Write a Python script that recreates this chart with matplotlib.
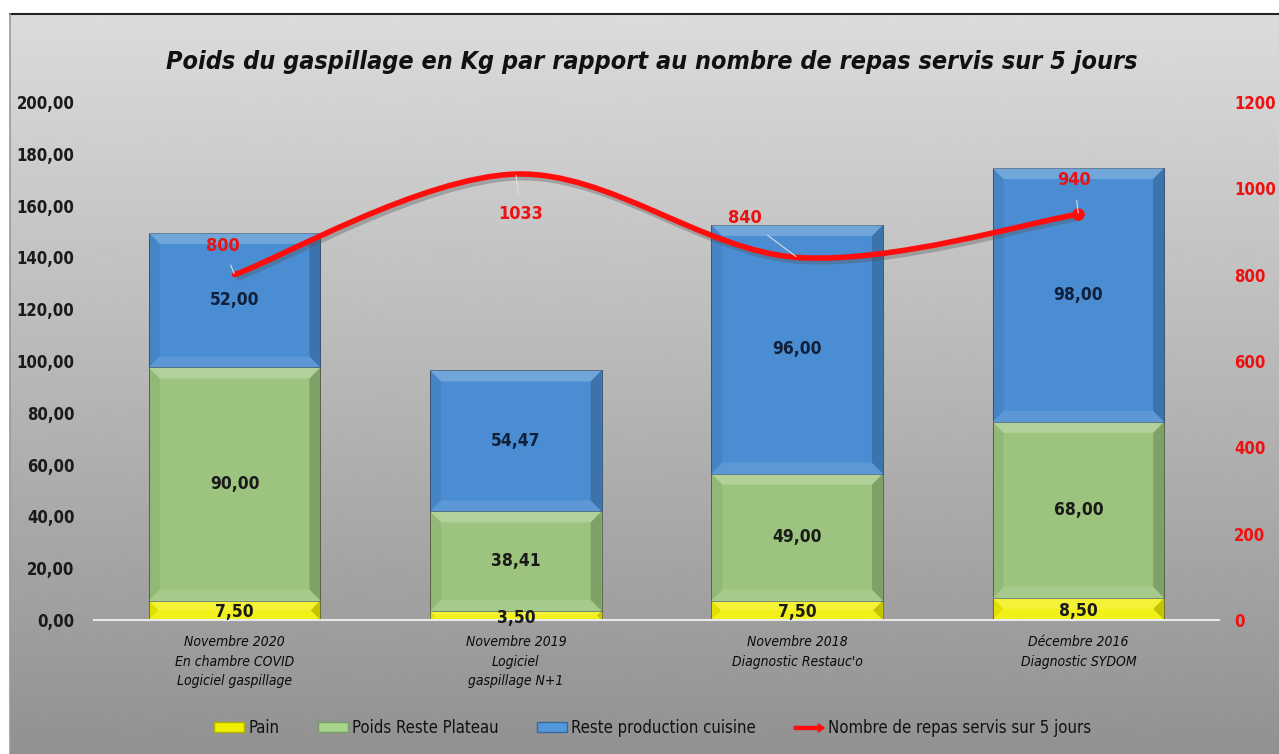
import numpy as np
import matplotlib.pyplot as plt
import matplotlib.transforms as mtransforms
from matplotlib.path import Path
from matplotlib.patches import PathPatch, Polygon, Patch, FancyArrow
from matplotlib.legend_handler import HandlerPatch

categories = ["Novembre 2020\nEn chambre COVID\nLogiciel gaspillage",
              "Novembre 2019\nLogiciel\ngaspillage N+1",
              "Novembre 2018\nDiagnostic Restauc'o",
              "Décembre 2016\nDiagnostic SYDOM"]
pain = [7.5, 3.5, 7.5, 8.5]
plateau = [90.0, 38.41, 49.0, 68.0]
cuisine = [52.0, 54.47, 96.0, 98.0]
repas = [800, 1033, 840, 940]
left_ticks = list(range(0, 201, 20))
right_ticks = list(range(0, 1201, 200))

plt.rcParams['font.family'] = ['DejaVu Sans']
plt.rcParams['font.stretch'] = 'condensed'

W, H = 1279, 754
fig = plt.figure(figsize=(W / 100, H / 100), dpi=100)
fig.patch.set_facecolor('white')

# gradient background of the chart area
bg = fig.add_axes([10 / W, 0, 1 - 10 / W, 1 - 14 / H])
grad = np.linspace(0.86, 0.57, 256).reshape(-1, 1)
bg.imshow(grad, aspect='auto', cmap='gray', vmin=0, vmax=1, extent=[0, 1, 0, 1])
bg.set_xlim(0, 1)
bg.set_ylim(0, 1)
bg.axis('off')
fig.add_artist(plt.Line2D([10 / W, 1], [1 - 14 / H, 1 - 14 / H], color='#222222', lw=1.5))
fig.add_artist(plt.Line2D([10 / W, 10 / W], [0, 1 - 14 / H], color='#9a9a9a', lw=1.2))

ax = fig.add_axes([94 / W, 1 - 620 / H, (1219 - 94) / W, (620 - 102) / H])
ax.patch.set_alpha(0)
ax.set_xlim(-0.5, 3.5)
ax.set_ylim(0, 200)
for s in ['top', 'right', 'left']:
    ax.spines[s].set_visible(False)
ax.spines['bottom'].set_color('#e8e8e8')
ax.spines['bottom'].set_linewidth(1.5)

x = np.arange(len(categories))
bw = 0.61
bottom2 = np.array(pain)
bottom3 = bottom2 + np.array(plateau)
b1 = ax.bar(x, pain, bw, color='#f0ef00', edgecolor='#6b6b30', lw=0.6, zorder=2)
b2 = ax.bar(x, plateau, bw, bottom=bottom2, color='#9cc47e', edgecolor='#4d5e40', lw=0.6, zorder=2)
b3 = ax.bar(x, cuisine, bw, bottom=bottom3, color='#4a8dd2', edgecolor='#2e4d6e', lw=0.6, zorder=2)

# bevel effect drawn from the bar geometry
px_x = (1219 - 94) / 4.0
px_y = (620 - 102) / 200.0


def bevel(rect, size=11):
    x0, y0 = rect.get_x(), rect.get_y()
    x1, y1 = x0 + rect.get_width(), y0 + rect.get_height()
    s = min(size, rect.get_height() * px_y / 2.0)
    dx, dy = s / px_x, s / px_y
    top = [(x0, y1), (x1, y1), (x1 - dx, y1 - dy), (x0 + dx, y1 - dy)]
    left = [(x0, y0), (x0, y1), (x0 + dx, y1 - dy), (x0 + dx, y0 + dy)]
    right = [(x1, y0), (x1, y1), (x1 - dx, y1 - dy), (x1 - dx, y0 + dy)]
    bot = [(x0, y0), (x1, y0), (x1 - dx, y0 + dy), (x0 + dx, y0 + dy)]
    ax.add_patch(Polygon(top, closed=True, fc='white', alpha=0.22, lw=0, zorder=3))
    ax.add_patch(Polygon(left, closed=True, fc='black', alpha=0.06, lw=0, zorder=3))
    ax.add_patch(Polygon(right, closed=True, fc='black', alpha=0.18, lw=0, zorder=3))
    ax.add_patch(Polygon(bot, closed=True, fc='white', alpha=0.10, lw=0, zorder=3))


for r in list(b1) + list(b2) + list(b3):
    bevel(r)


def fmt(v):
    return f"{v:.2f}".replace('.', ',')


for i in range(len(categories)):
    ax.text(x[i], pain[i] / 2.0 - 0.8, fmt(pain[i]), ha='center', va='center',
            fontsize=12.5, fontweight='bold', color='#1a1a1a', zorder=5)
    ax.text(x[i], bottom2[i] + plateau[i] / 2.0, fmt(plateau[i]), ha='center', va='center',
            fontsize=12.5, fontweight='bold', color='#1a1a1a', zorder=5)
    ax.text(x[i], bottom3[i] + cuisine[i] / 2.0, fmt(cuisine[i]), ha='center', va='center',
            fontsize=12.5, fontweight='bold', color='#10203a', zorder=5)

ax.set_yticks(left_ticks)
ax.set_yticklabels([fmt(v) for v in left_ticks], fontsize=12, fontweight='bold', color='#1a1a1a')
ax.set_xticks(x)
ax.set_xticklabels(categories, fontsize=10, fontstyle='italic', color='#0a0a0a', linespacing=1.5)
ax.tick_params(axis='y', length=0, pad=14)
ax.tick_params(axis='x', length=0, pad=11)

ax2 = ax.twinx()
ax2.set_ylim(0, 1200)
for s in ax2.spines.values():
    s.set_visible(False)
ax2.set_yticks(right_ticks)
ax2.set_yticklabels([str(v) for v in right_ticks], fontsize=12, fontweight='bold', color='#ee1111')
ax2.tick_params(axis='y', length=0, pad=11)

# smoothed line (Catmull-Rom style bezier, like Excel smoothing)
pts = np.column_stack([x, repas]).astype(float)
verts = [tuple(pts[0])]
codes = [Path.MOVETO]
n = len(pts)
for i in range(n - 1):
    p0 = pts[max(i - 1, 0)]
    p1 = pts[i]
    p2 = pts[i + 1]
    p3 = pts[min(i + 2, n - 1)]
    c1 = p1 + (p2 - p0) / 6.0
    c2 = p2 - (p3 - p1) / 6.0
    verts += [tuple(c1), tuple(c2), tuple(p2)]
    codes += [Path.CURVE4] * 3
path = Path(verts, codes)
shadow = PathPatch(path, fill=False, ec='#555555', lw=5, alpha=0.35, zorder=6,
                   transform=ax2.transData + mtransforms.ScaledTranslation(2 / 100, -3 / 100, fig.dpi_scale_trans))
ax2.add_patch(shadow)
ax2.add_patch(PathPatch(path, fill=False, ec='#ff0d0d', lw=4, zorder=7, capstyle='round'))
ax2.plot([x[-1]], [repas[-1]], marker='o', ms=8, color='#ff0d0d', zorder=8)

offsets = [(-12, 29), (5, -40), (-52, 39), (-4, 34)]
for i, (ox, oy) in enumerate(offsets):
    ax2.annotate(str(repas[i]), xy=(x[i], repas[i]), xytext=(ox * 0.72, oy * 0.72),
                 textcoords='offset points', ha='center', va='center', fontsize=13,
                 fontweight='bold', color='#ee1111', zorder=9,
                 arrowprops=dict(arrowstyle='-', color='#dddddd', lw=0.8, shrinkA=6, shrinkB=1))

fig.text(652 / W, 1 - 62 / H, "Poids du gaspillage en Kg par rapport au nombre de repas servis sur 5 jours",
         ha='center', va='center', fontsize=18, fontweight='bold', fontstyle='italic', color='#111111')


def make_arrow(legend, orig_handle, xdescent, ydescent, width, height, fontsize):
    return FancyArrow(0, height / 2.0, width, 0, width=height * 0.3, head_width=height * 0.8,
                      head_length=height * 0.6, length_includes_head=True, color='#ff0d0d')


arrow_h = Patch(color='#ff0d0d', label='Nombre de repas servis sur 5 jours')
handles = [Patch(fc='#f0ef00', ec='#b0b000', label='Pain'),
           Patch(fc='#a8d58c', ec='#7a9a66', label='Poids Reste Plateau'),
           Patch(fc='#5498dc', ec='#3a6a9a', label='Reste production cuisine'),
           arrow_h]
leg = fig.legend(handles=handles, loc='center', bbox_to_anchor=(653 / W, 1 - 728 / H), ncol=4,
                 frameon=False, fontsize=12, handlelength=1.8, handleheight=0.55,
                 handletextpad=0.25, columnspacing=2.3,
                 handler_map={arrow_h: HandlerPatch(patch_func=make_arrow)})
for t in leg.get_texts():
    t.set_color('#111111')

fig.savefig('out.png', dpi=100)
